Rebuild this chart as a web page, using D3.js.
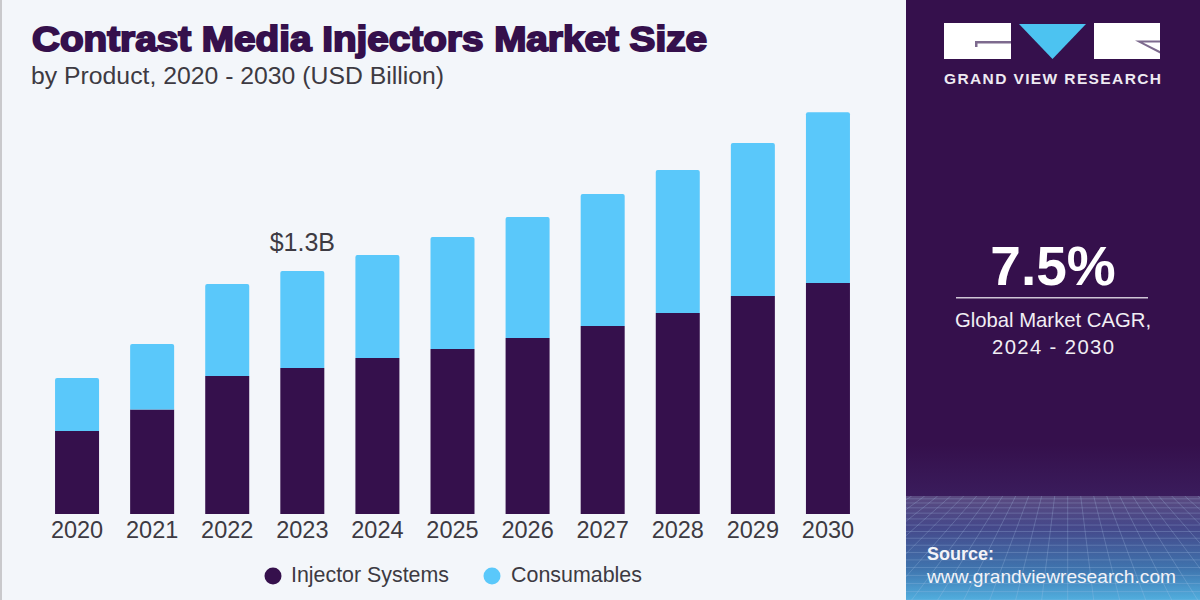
<!DOCTYPE html>
<html>
<head>
<meta charset="utf-8">
<script src="https://cdn.jsdelivr.net/npm/d3@7"></script>
<style>
	html,body{margin:0;padding:0;background:#f3f6fa;}
	svg{display:block;font-family:"Liberation Sans",Arial,sans-serif;}
</style>
</head>
<body>
<div id="chart"></div>
<script>
var years=["2020","2021","2022","2023","2024","2025","2026","2027","2028","2029","2030"];
var injectorSystems=[0.444,0.559,0.738,0.781,0.834,0.882,0.941,1.005,1.075,1.166,1.235];
var consumables=[0.283,0.350,0.492,0.519,0.551,0.599,0.647,0.706,0.765,0.818,0.914];
var seriesNames=["Injector Systems","Consumables"];
var seriesColors=["#35104c","#5ac8fa"];

var width=1200, height=600;
var baseY=514, pxPerBillion=187;
var purple="#35104c", textColor="#3d3a42";

var svg=d3.select("#chart").append("svg").attr("width",width).attr("height",height);
var defs=svg.append("defs");

// background and left edge
svg.append("rect").attr("width",width).attr("height",height).attr("fill","#f3f6fa");
svg.append("rect").attr("width",2).attr("height",height).attr("fill","#c9c9cc");

var x=d3.scaleBand().domain(years).range([39.5,865.5]).paddingInner(0.414).paddingOuter(0.207);
var y=d3.scaleLinear().domain([0,1]).range([baseY,baseY-pxPerBillion]);

var stackData=years.map(function(d,i){
	return {year:d,injector:injectorSystems[i],consumables:consumables[i]};
});
var stacked=d3.stack().keys(["injector","consumables"])(stackData);

svg.selectAll("g.series").data(stacked).enter().append("g")
	.attr("class","series")
	.attr("fill",function(d,i){return seriesColors[i];})
	.selectAll("path").data(function(d){return d;}).enter().append("path")
	.attr("d",function(d){
		// the top segment has slightly rounded upper corners
		var x0=x(d.data.year), x1=x0+x.bandwidth(), t=y(d[1]), b=y(d[0]);
		if(d[0]==0){return "M"+x0+","+b+"V"+t+"H"+x1+"V"+b+"Z";}
		return "M"+x0+","+b+"V"+(t+2)+"Q"+x0+","+t+" "+(x0+2)+","+t+"H"+(x1-2)+"Q"+x1+","+t+" "+x1+","+(t+2)+"V"+b+"Z";
	});

// x axis labels
var axis=svg.append("g").attr("transform","translate(0,"+baseY+")")
	.call(d3.axisBottom(x).tickSize(0).tickPadding(7));
axis.select(".domain").remove();
axis.selectAll("text").attr("font-size",23.5).attr("font-family","Liberation Sans").attr("fill",textColor);

// value label on the 2023 bar
svg.append("text")
	.attr("x",x("2023")+x.bandwidth()/2).attr("y",y(injectorSystems[3]+consumables[3])-20)
	.attr("text-anchor","middle").attr("font-size",25).attr("fill",textColor)
	.text("$1.3B");

// title
svg.append("text").attr("x",32).attr("y",51)
	.attr("font-size",35).attr("font-weight","bold").attr("fill",purple)
	.attr("stroke",purple).attr("stroke-width",1.9)
	.attr("textLength",675).attr("lengthAdjust","spacingAndGlyphs")
	.text("Contrast Media Injectors Market Size");
svg.append("text").attr("x",31).attr("y",84)
	.attr("font-size",23.5).attr("fill",textColor)
	.attr("textLength",413).attr("lengthAdjust","spacingAndGlyphs")
	.text("by Product, 2020 - 2030 (USD Billion)");

// legend
var legendItems=[{cx:273,tx:291,tw:158},{cx:492,tx:511,tw:131}];
var legend=svg.selectAll("g.legend").data(seriesNames).enter().append("g").attr("class","legend");
legend.append("circle")
	.attr("cx",function(d,i){return legendItems[i].cx;}).attr("cy",576).attr("r",8.5)
	.attr("fill",function(d,i){return seriesColors[i];});
legend.append("text")
	.attr("x",function(d,i){return legendItems[i].tx;}).attr("y",582)
	.attr("font-size",22).attr("fill",textColor)
	.attr("textLength",function(d,i){return legendItems[i].tw;})
	.attr("lengthAdjust","spacingAndGlyphs")
	.text(function(d){return d;});

// side panel
var panelX=906, panelW=width-panelX;
var panelGrad=defs.append("linearGradient").attr("id","panelGrad").attr("x1",0).attr("x2",0).attr("y1",0).attr("y2",1);
panelGrad.append("stop").attr("offset","0.74").attr("stop-color",purple);
panelGrad.append("stop").attr("offset","0.827").attr("stop-color","#3a1c5c");
svg.append("rect").attr("x",panelX).attr("width",panelW).attr("height",height).attr("fill","url(#panelGrad)");

// perspective floor behind the source note
var floorTop=496;
var floorGrad=defs.append("linearGradient").attr("id","floorGrad").attr("x1",0).attr("x2",0).attr("y1",0).attr("y2",1);
floorGrad.append("stop").attr("offset","0").attr("stop-color","#5b4a80");
floorGrad.append("stop").attr("offset","0.3").attr("stop-color","#45488a");
floorGrad.append("stop").attr("offset","0.7").attr("stop-color","#3f74ae");
floorGrad.append("stop").attr("offset","1").attr("stop-color","#51aede");
svg.append("rect").attr("x",panelX).attr("y",floorTop).attr("width",panelW).attr("height",height-floorTop).attr("fill","url(#floorGrad)");

defs.append("clipPath").attr("id","floorClip").append("rect")
	.attr("x",panelX).attr("y",floorTop).attr("width",panelW).attr("height",height-floorTop);
var grid=svg.append("g").attr("clip-path","url(#floorClip)")
	.attr("stroke","#a9c6e6").attr("stroke-opacity",0.26).attr("stroke-width",1).attr("fill","none");
var vanishX=panelX+panelW*0.55;
d3.range(-24,25).forEach(function(k){
	grid.append("line").attr("x1",vanishX+k*13).attr("y1",floorTop)
		.attr("x2",vanishX+k*26).attr("y2",height);
});
d3.range(1,17).forEach(function(k){
	var gy=floorTop+(height-floorTop)*Math.pow(k/16,1.3);
	grid.append("line").attr("x1",panelX).attr("y1",gy).attr("x2",width).attr("y2",gy);
});

// logo
var logo=svg.append("g");
logo.append("rect").attr("x",944).attr("y",23).attr("width",67).attr("height",36).attr("fill","#fff");
logo.append("path").attr("d","M975,47V41H1011V43.5H977.5V47Z").attr("fill","#7d6a8e");
logo.append("path").attr("d","M1019,24H1086L1052.5,59Z").attr("fill","#4cc3f1");
logo.append("rect").attr("x",1094).attr("y",23).attr("width",66).attr("height",36).attr("fill","#fff");
logo.append("path").attr("d","M1135,40.5H1160V42.5H1143L1160,51V53.5Z").attr("fill","#7d6a8e");
logo.append("text").attr("x",944).attr("y",84)
	.attr("font-size",15.5).attr("font-weight","bold").attr("fill","#eeeaf2")
	.attr("textLength",217)
	.text("GRAND VIEW RESEARCH");

// CAGR
svg.append("text").attr("x",1053).attr("y",285).attr("text-anchor","middle")
	.attr("font-size",55).attr("font-weight","bold").attr("fill","#fff")
	.text("7.5%");
svg.append("rect").attr("x",956).attr("y",297).attr("width",192).attr("height",1.5).attr("fill","#cfc6d6");
svg.append("text").attr("x",1053).attr("y",327).attr("text-anchor","middle")
	.attr("font-size",20.3).attr("fill","#f1eef4").text("Global Market CAGR,");
svg.append("text").attr("x",992).attr("y",354)
	.attr("font-size",20.3).attr("fill","#f1eef4").attr("textLength",122).text("2024 - 2030");

// source
svg.append("text").attr("x",927).attr("y",560)
	.attr("font-size",18).attr("font-weight","bold").attr("fill","#f3f3f8").text("Source:");
svg.append("text").attr("x",927).attr("y",583)
	.attr("font-size",19).attr("fill","#f3f3f8").attr("textLength",249).attr("lengthAdjust","spacingAndGlyphs").text("www.grandviewresearch.com");
</script>
</body>
</html>
